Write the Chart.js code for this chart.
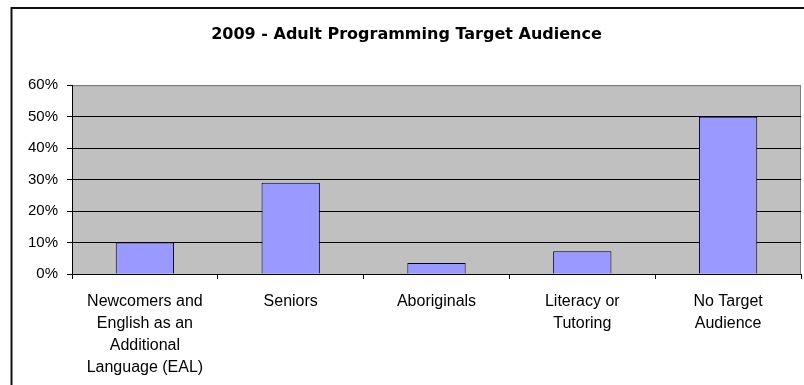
<!DOCTYPE html>
<html>
<head>
<meta charset="utf-8">
<title>2009 - Adult Programming Target Audience</title>
<script src="https://cdn.jsdelivr.net/npm/chart.js@4"></script>
<style>
  html, body { margin: 0; padding: 0; background: #fff; overflow: hidden; }
  #wrap { width: 804px; height: 385px; position: relative; }
</style>
</head>
<body>
<div id="wrap"><canvas id="doelgroep" width="804" height="385"></canvas></div>
<script>
// categorieen (labels op meerdere regels)
const categories = [
  ['Newcomers and', 'English as an', 'Additional', 'Language (EAL)'],
  'Seniors',
  'Aboriginals',
  ['Literacy or', 'Tutoring'],
  ['No Target', 'Audience']
];
// percentages per doelgroep
const percentages = [10, 29, 3.5, 7.2, 50];
const yTicks = [0, 10, 20, 30, 40, 50, 60];

// grijze plot-achtergrond en kader om de hele grafiek
const plotBackground = {
  id: 'plotBackground',
  beforeDraw(chart) {
    const { ctx, chartArea: a } = chart;
    ctx.save();
    ctx.fillStyle = '#fff';
    ctx.fillRect(0, 0, chart.width, chart.height);
    // buitenkader
    ctx.strokeStyle = '#111';
    ctx.lineWidth = 2;
    ctx.strokeRect(11.5, 8, chart.width + 20, chart.height + 20);
    // plotgebied
    ctx.fillStyle = '#c0c0c0';
    ctx.fillRect(a.left, a.top, a.right - a.left, a.bottom - a.top);
    ctx.strokeStyle = '#808080';
    ctx.lineWidth = 1;
    ctx.strokeRect(a.left + 0.5, a.top + 0.5, a.right - a.left - 1, a.bottom - a.top);
    ctx.restore();
  }
};

const ctx = document.getElementById('doelgroep').getContext('2d');
new Chart(ctx, {
  type: 'bar',
  data: {
    labels: categories,
    datasets: [{
      data: percentages,
      backgroundColor: '#9999ff',
      borderColor: '#000',
      borderWidth: 1,
      categoryPercentage: 1,
      barPercentage: 0.4
    }]
  },
  options: {
    responsive: false,
    animation: false,
    layout: { padding: { left: 12, right: 3, top: 0, bottom: 0 } },
    plugins: {
      legend: { display: false },
      tooltip: { enabled: false },
      title: {
        display: true,
        text: '2009 - Adult Programming Target Audience',
        color: '#000',
        font: { family: 'DejaVu Sans', size: 16, weight: 'bold', lineHeight: 1.2 },
        padding: { top: 25, bottom: 41 }
      }
    },
    scales: {
      x: {
        afterFit(scale) { scale.height = 111; },
        grid: {
          offset: true,
          drawOnChartArea: false,
          tickLength: 5,
          tickColor: '#000'
        },
        border: { display: true, color: '#000', width: 1 },
        ticks: {
          color: '#000',
          padding: 12,
          maxRotation: 0,
          autoSkip: false,
          font: { family: 'Liberation Sans', size: 16, lineHeight: 1.375 }
        }
      },
      y: {
        min: 0,
        max: 60,
        afterFit(scale) { scale.width = 60; },
        afterBuildTicks(scale) { scale.ticks = yTicks.map(v => ({ value: v })); },
        grid: {
          color: c => (c.tick && c.tick.value === 60 ? '#808080' : '#000'),
          tickLength: 5,
          tickColor: '#000'
        },
        border: { display: true, color: '#000', width: 1 },
        ticks: {
          color: '#000',
          padding: 9,
          font: { family: 'Liberation Sans', size: 15 },
          callback: v => v + '%'
        }
      }
    }
  },
  plugins: [plotBackground]
});
</script>
</body>
</html>
